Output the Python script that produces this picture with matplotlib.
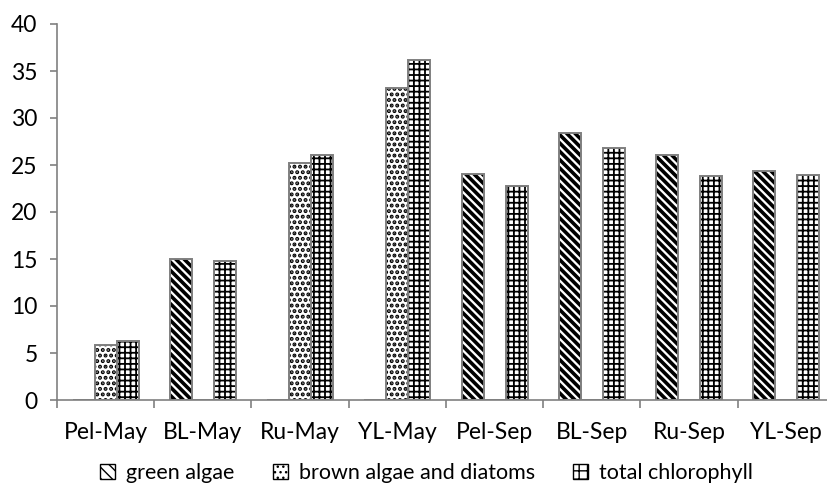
import matplotlib.pyplot as plt
import matplotlib.patches as mpatches
import numpy as np

plt.rcParams['font.family'] = ['Lato', 'DejaVu Sans']

sites = ['Pel-May', 'BL-May', 'Ru-May', 'YL-May', 'Pel-Sep', 'BL-Sep', 'Ru-Sep', 'YL-Sep']
green_algae = [0, 15.0, 0, 0, 24.0, 28.4, 26.1, 24.4]
brown_algae = [5.8, 0, 25.2, 33.2, 0, 0, 0, 0]
total_chl = [6.3, 14.8, 26.1, 36.2, 22.8, 26.8, 23.8, 23.9]
labels = ['green algae', 'brown algae and diatoms', 'total chlorophyll']
hatches = ['\\\\\\\\', '...', '+++']
hatch_widths = [2.6, 2.0, 1.3]

fig = plt.figure(figsize=(8.28, 4.86), dpi=100)
ax = fig.add_axes([57 / 828, 86 / 486, 778 / 828, 376 / 486])

x = np.arange(len(sites))
w = 0.226
series = [green_algae, brown_algae, total_chl]
for k, vals in enumerate(series):
    pos = x + (k - 1) * w
    bars = ax.bar(pos, vals, w, color='white', edgecolor='black', hatch=hatches[k], linewidth=0)
    for b in bars:
        if hasattr(b, 'set_hatch_linewidth'):
            b.set_hatch_linewidth(hatch_widths[k])
    ax.bar(pos, vals, w, fill=False, edgecolor='#7f7f7f', linewidth=1.4)

ax.set_xlim(-0.5, len(sites) - 0.5)
ax.set_ylim(0, 40)
ax.set_yticks(range(0, 41, 5))
ax.set_xticks(x)
ax.set_xticklabels(sites)
ax.set_xticks(np.arange(-0.5, len(sites), 1), minor=True)
ax.tick_params(axis='x', which='major', length=0, pad=16, labelsize=16.5)
ax.tick_params(axis='x', which='minor', length=6, color='#808080', width=1.2)
ax.tick_params(axis='y', length=5, color='#808080', width=1.2, labelsize=16.5, pad=9)
for s in ['top', 'right']:
    ax.spines[s].set_visible(False)
for s in ['left', 'bottom']:
    ax.spines[s].set_color('#808080')
    ax.spines[s].set_linewidth(1.2)

handles = []
for k in range(3):
    h = hatches[k].replace('\\\\\\\\', '\\\\\\').replace('+++', '++')
    p = mpatches.Patch(facecolor='white', edgecolor='black', hatch=h, linewidth=1.0)
    if hasattr(p, 'set_hatch_linewidth'):
        p.set_hatch_linewidth(1.6)
    handles.append(p)
fig.legend(handles, labels, loc='center', bbox_to_anchor=(0.515, 0.026), ncol=3, frameon=False,
           fontsize=15.5, handlelength=0.7, handleheight=0.7, handletextpad=0.5, columnspacing=1.8)

fig.savefig('out.png', dpi=100)
